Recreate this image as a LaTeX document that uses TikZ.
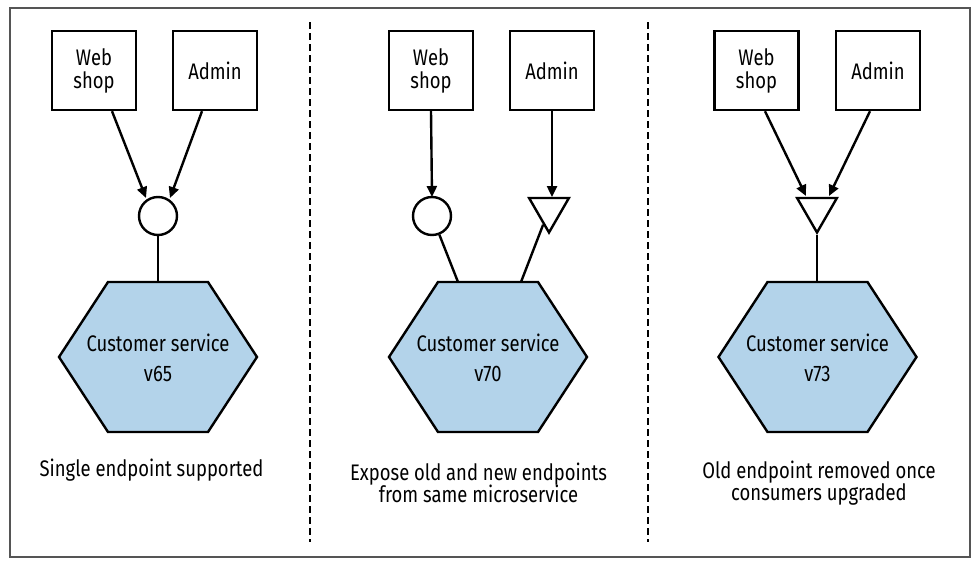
\documentclass[tikz,border=0pt]{standalone}
\usepackage{fontspec}
\setmainfont{Fira Sans}[FakeStretch=0.82]
\usetikzlibrary{arrows.meta,shapes.geometric}
\definecolor{hexblue}{HTML}{B3D3EA}
\definecolor{framegray}{HTML}{555555}
\begin{document}
\begin{tikzpicture}[x=1pt,y=-1pt,
  every node/.style={inner sep=0pt},
  client/.style={draw,line width=2.4pt,minimum width=84pt,minimum height=79pt,align=center,font=\fontsize{22.5}{23}\selectfont},
  endpt/.style={draw,line width=2.4pt,circle,minimum size=38pt,fill=white},
  newendpt/.style={draw,line width=2.4pt,regular polygon,regular polygon sides=3,shape border rotate=180,minimum size=46pt,fill=white},
  conn/.style={line width=2.4pt},
  arr/.style={line width=2.4pt,-{Triangle[length=11pt,width=10pt]}},
  hexshape/.style={draw,line width=2.4pt,fill=hexblue,line join=miter},
  hextext/.style={align=center,font=\fontsize{22.5}{30}\selectfont},
  caption/.style={align=center,font=\fontsize{22.5}{22.5}\selectfont},
  divider/.style={line width=2.5pt,dash pattern=on 7pt off 4pt},
  hexa/.pic={\path[hexshape] (-50,-75) -- (50,-75) -- (99,0) -- (50,75) -- (-50,75) -- (-99,0) -- cycle;}
]
\useasboundingbox (0,0) rectangle (975,565);
\draw[framegray,line width=1.3pt] (10,8) rectangle (970,557);
% dividers
\coordinate (d1a) at (310,22); \coordinate (d1b) at (310,542);
\coordinate (d2a) at (648,22); \coordinate (d2b) at (648,542);
\draw[divider] (d1a) -- (d1b);
\draw[divider] (d2a) -- (d2b);

% ---------- panel 1 ----------
\node[client] (ws1) at (94,70.5) {Web\\shop};
\node[client] (ad1) at (215,70.5) {Admin};
\node[endpt] (c1) at (158,216) {};
\pic at (158,357) {hexa};
\coordinate (h1top) at (158,282);
\node[hextext] (s1) at (158,358) {Customer service\\v65};
\node[caption] (cap1) at (151.5,470) {Single endpoint supported};
\coordinate (e1a) at (146,198);
\coordinate (e1b) at (170,198);
\draw[arr] ([xshift=18pt]ws1.south) -- (e1a);
\draw[arr] ([xshift=-13pt]ad1.south) -- (e1b);
\draw[conn] (c1) -- (h1top);

% ---------- panel 2 ----------
\node[client] (ws2) at (431,70.5) {Web\\shop};
\node[client] (ad2) at (552,70.5) {Admin};
\node[endpt] (c2) at (432,216) {};
\node[newendpt] (t2) at (549,209.5) {};
\pic at (488,357) {hexa};
\coordinate (h2a) at (458,282);
\coordinate (h2b) at (521,282);
\node[hextext] (s2) at (488,358) {Customer service\\v70};
\node[caption] (cap2) at (478.5,483) {Expose old and new endpoints\\from same microservice};
\coordinate (e2a) at (432,197);
\coordinate (e2b) at (552,197);
\draw[arr] (ws2.south) -- (e2a);
\draw[arr] (ad2.south) -- (e2b);
\draw[conn] (c2) -- (h2a);
\draw[conn] (t2) -- (h2b);

% ---------- panel 3 ----------
\node[client] (ws3) at (756.5,70.5) {Web\\shop};
\node[client] (ad3) at (878,70.5) {Admin};
\node[newendpt] (t3) at (817,209.5) {};
\pic at (817.5,357) {hexa};
\coordinate (h3top) at (817,282);
\node[hextext] (s3) at (817.5,358) {Customer service\\v73};
\node[caption] (cap3) at (819,483) {Old endpoint removed once\\consumers upgraded};
\coordinate (e3a) at (806,196);
\coordinate (e3b) at (829,196);
\draw[arr] ([xshift=8.5pt]ws3.south) -- (e3a);
\draw[arr] ([xshift=-8pt]ad3.south) -- (e3b);
\draw[conn] (t3) -- (h3top);
\end{tikzpicture}
\end{document}
